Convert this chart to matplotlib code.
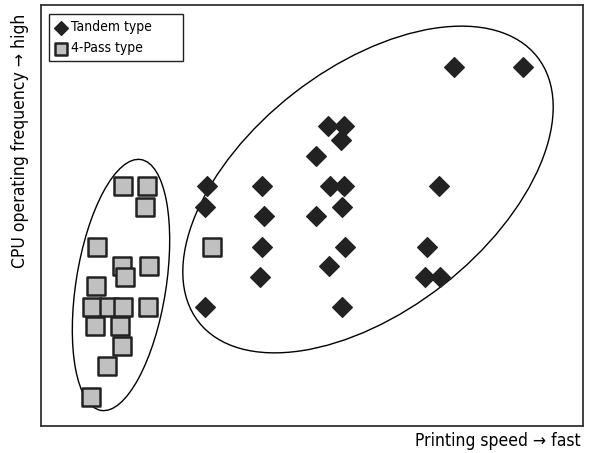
import matplotlib.pyplot as plt
from matplotlib.patches import Ellipse

plt.rcParams['font.family'] = ['DejaVu Sans']
plt.rcParams['font.stretch'] = 'condensed'

# tandem type printers (speed, cpu frequency), arbitrary units
tandem_x = [413, 482, 287, 303, 300, 275, 166, 221, 289, 303, 398, 164, 301, 223,
            275, 221, 304, 386, 288, 219, 384, 399, 164, 301]
tandem_y = [359, 359, 300, 300, 286, 270, 240, 240, 240, 240, 240, 219, 219, 210,
            210, 179, 179, 179, 160, 149, 149, 149, 119, 119]

# 4-pass type printers
pass_x = [82, 106, 104, 56, 81, 84, 108, 55, 51, 68, 82, 107, 54, 79, 81, 66, 50, 171]
pass_y = [240, 240, 219, 179, 160, 149, 160, 140, 119, 119, 119, 119, 100, 100,
          80, 60, 29, 179]

# group outlines: centre, width, height, angle
groups = [((80, 141), 90, 254, -9), ((327, 236.5), 430, 243, 38)]

fig = plt.figure(figsize=(5.92, 4.53), dpi=100)
ax = fig.add_axes([41/592, 27/453, 542/592, 421/453])
ax.set_xlim(0, 542)
ax.set_ylim(0, 421)
ax.set_xticks([])
ax.set_yticks([])
for s in ax.spines.values():
    s.set_linewidth(1.3)
    s.set_color('#333333')

for c, w, h, a in groups:
    ax.add_patch(Ellipse(c, w, h, angle=a, fill=False, edgecolor='black', lw=1.0))

ax.scatter(tandem_x, tandem_y, marker='D', s=100, color='#222222',
           label='Tandem type', zorder=3)
ax.scatter(pass_x, pass_y, marker='s', s=150, facecolor='#c0c0c0',
           edgecolor='#222222', linewidths=1.8, label='4-Pass type', zorder=3)

leg = ax.legend(loc='upper left', bbox_to_anchor=(8/542, 363/421, 134/542, 49/421),
                mode='expand', borderaxespad=0,
                fancybox=False, edgecolor='#222222', framealpha=1, fontsize=10,
                handlelength=0.8, handletextpad=0.3, borderpad=0.45,
                labelspacing=0.5, markerscale=0.7)
leg.get_frame().set_linewidth(1.0)

fig.text(20/592, 1 - 14/453, 'CPU operating frequency \u2192 high', rotation=90,
         ha='center', va='top', fontsize=12.6)
fig.text(581/592, 1 - 441/453, 'Printing speed \u2192 fast', ha='right',
         va='center', fontsize=12.6)

fig.savefig('out.png', dpi=100)
